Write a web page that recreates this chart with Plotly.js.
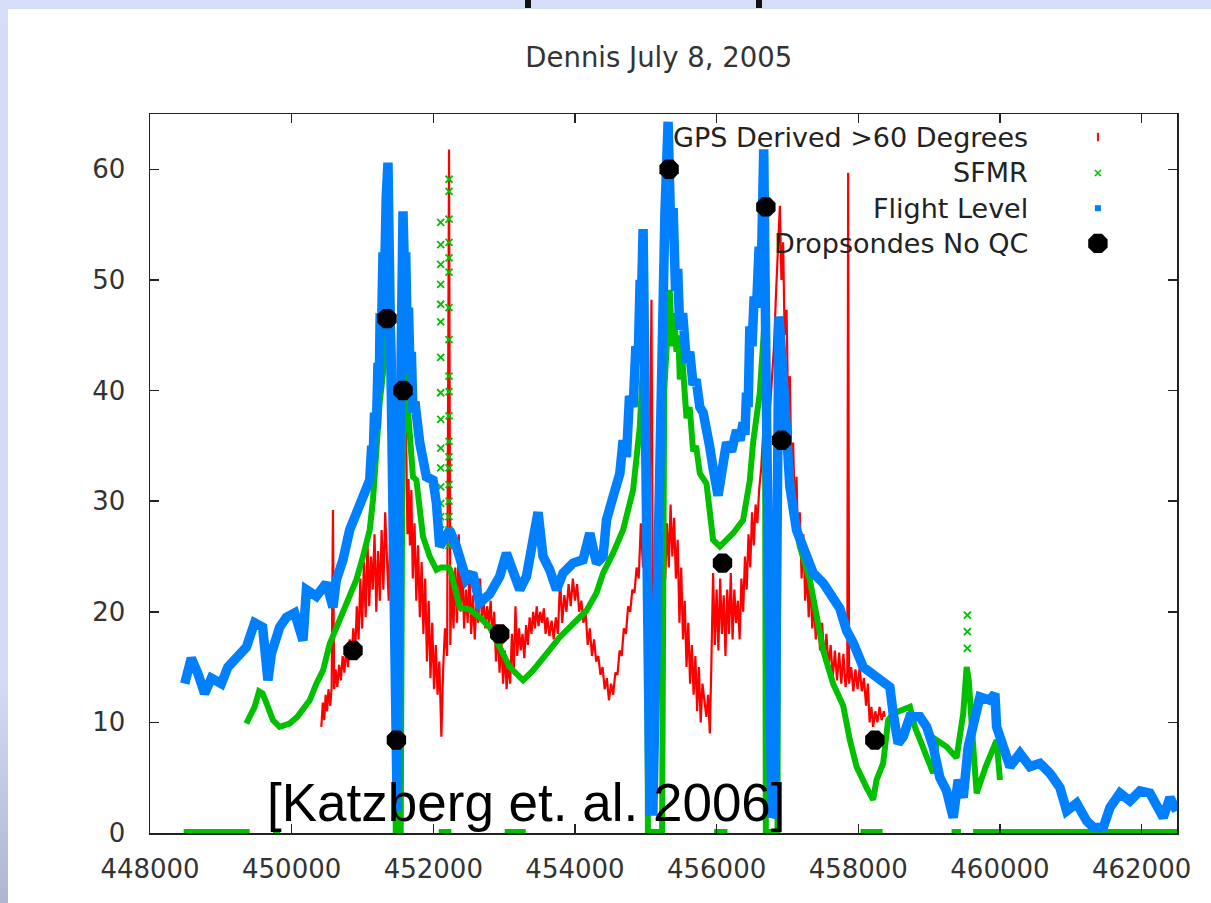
<!DOCTYPE html>
<html>
<head>
<meta charset="utf-8">
<script src="https://cdn.plot.ly/plotly-3.0.1.min.js"></script>
<style>
  html, body { margin: 0; padding: 0; }
  body {
    width: 1211px; height: 903px; overflow: hidden; position: relative;
    background: linear-gradient(to bottom, #d5ddf9 0%, #d3dbf6 75%, #aeb7cf 100%);
  }
  #sheet { position: absolute; left: 8px; top: 9px; right: 0; bottom: 0; background: #ffffff; }
  .cut { position: absolute; top: 0; width: 6px; height: 8px; background: #111; }
  #chart { position: absolute; left: 0; top: 0; width: 1211px; height: 903px; }
</style>
</head>
<body>
<div id="sheet"></div>
<div class="cut" style="left:525px"></div>
<div class="cut" style="left:756px"></div>
<div id="chart"></div>
<script>
// Hurricane Dennis, 8 July 2005: wind speed vs. time (seconds)

// GPS derived winds, elevation > 60 degrees
const gpsX = [450419,450440,450460,450480,450500,450520,450545,450565,450583,450600,450620,450645,450670,450695,450720,450745,450770,450795,450820,450845,450870,450895,450920,450945,450970,450995,451020,451045,451070,451095,451120,451145,451170,451195,451220,451245,451270,451295,451320,451345,451370,451395,451420,451445,451470,451500,451530,451560,451596,451615,451635,451650,451670,451690,451710,451735,451760,451785,451810,451835,451860,451885,451910,451935,451960,451985,452010,452035,452060,452085,452114,452140,452165,452195,452222,452240,452260,452285,452310,452335,452360,452385,452410,452435,452460,452485,452510,452535,452560,452585,452610,452635,452660,452685,452710,452735,452760,452785,452810,452835,452860,452885,452910,452935,452960,452985,453010,453035,453060,453085,453110,453135,453160,453185,453210,453235,453260,453285,453310,453335,453360,453385,453410,453435,453460,453485,453510,453535,453560,453585,453610,453640,453670,453700,453730,453760,453790,453820,453850,453880,453910,453940,453970,454000,454030,454060,454090,454120,454150,454180,454210,454240,454270,454300,454330,454360,454390,454420,454450,454480,454510,454540,454570,454600,454630,454660,454690,454720,454750,454780,454810,454840,454870,454900,454930,454960,454990,455020,455050,455080,455100,455120,455140,455160,455180,455200,455220,455250,455275,455300,455325,455350,455375,455400,455425,455450,455475,455500,455525,455550,455575,455600,455625,455650,455675,455700,455725,455750,455775,455800,455830,455855,455880,455904,455925,455950,455975,456000,456025,456050,456075,456100,456125,456150,456175,456200,456225,456250,456275,456300,456325,456350,456375,456400,456425,456450,456475,456500,456525,456550,456575,456600,456630,456660,456690,456720,456750,456780,456810,456840,456870,456893,456915,456939,456960,456987,457010,457034,457055,457080,457105,457128,457150,457175,457200,457225,457250,457275,457300,457325,457350,457375,457400,457430,457460,457490,457520,457550,457580,457610,457640,457670,457700,457730,457760,457790,457820,457845,457857,457870,457900,457930,457960,457990,458020,458050,458080,458110,458135,458160,458185,458210,458240,458270,458300,458330,458360,458375];
const gpsY = [9.6,11.8,10.2,12.5,11.0,13.0,11.5,13.2,29.2,13.0,14.8,13.2,15.2,13.8,16.0,14.5,16.8,15.0,17.5,15.8,18.5,16.0,20.5,17.5,23.0,18.5,24.5,19.5,26.5,20.5,25.0,22.0,27.0,20.0,25.5,21.0,27.4,22.0,29.0,24.0,21.0,28.0,19.0,30.0,24.0,31.0,28.0,38.0,43.3,36.0,27.0,32.0,26.0,31.0,23.0,28.0,21.0,26.0,19.5,24.5,18.0,23.0,15.5,21.0,14.0,19.0,13.0,17.0,12.5,15.5,8.7,15.0,18.5,16.0,61.8,17.0,23.0,18.5,24.0,19.0,27.0,20.0,24.0,18.5,22.0,19.0,23.5,18.0,21.5,17.5,21.0,19.0,23.0,19.5,21.0,18.5,20.5,19.0,21.0,17.5,20.0,15.5,18.5,14.5,17.5,13.5,16.5,13.0,15.5,13.5,18.0,14.5,20.5,16.0,18.5,16.5,18.0,15.8,18.8,17.0,19.5,18.0,20.0,18.5,20.5,18.7,20.0,19.0,20.3,18.0,19.5,17.8,19.2,17.5,19.5,18.0,23.0,19.0,21.5,20.0,22.5,20.5,23.0,21.0,22.5,20.0,21.0,19.0,20.0,17.0,18.5,16.0,17.5,15.5,16.0,14.3,15.0,13.0,14.0,12.0,13.5,12.5,14.5,14.3,16.5,16.0,18.5,18.0,20.5,20.0,22.0,21.7,24.0,23.0,28.0,24.0,29.0,25.0,27.0,48.2,20.0,24.0,19.7,27.4,22.0,30.0,24.0,27.0,23.0,28.0,24.0,29.7,25.0,28.5,23.0,26.5,19.0,24.0,17.5,21.0,15.0,19.0,13.5,17.0,12.5,16.0,11.0,15.0,10.0,13.5,12.0,10.5,12.5,9.0,15.0,23.5,17.0,22.0,16.5,23.0,18.0,21.5,16.0,22.0,18.0,23.5,17.5,22.0,19.0,21.0,17.5,23.0,20.0,25.0,22.0,27.0,24.0,29.0,26.0,29.7,28.0,31.0,33.0,36.5,35.0,39.0,38.0,41.3,44.0,49.0,53.0,56.7,50.0,53.4,45.0,47.3,38.0,41.3,33.0,35.3,29.0,32.2,26.0,29.0,23.0,27.0,21.0,24.0,19.5,23.0,18.5,21.0,17.5,20.0,16.5,19.0,15.5,18.0,15.0,17.0,14.0,16.5,13.8,16.3,13.5,16.2,13.2,14.5,59.7,13.5,15.0,12.8,14.8,13.0,15.0,12.8,14.0,11.5,13.5,10.0,11.4,9.6,11.0,10.0,11.4,10.2,11.0,10.5];

// SFMR surface winds
const sfmrX = [449360,449420,449477,449540,449590,449665,449735,449830,449970,450080,450160,450255,450349,450443,450537,450631,450725,450819,450914,451007,451102,451148,451196,451243,451337,451384,451431,451455,451470,451540,451560,451596,451667,451713,451761,451808,451854,451949,452044,452110,452140,452215,452240,452278,452373,452514,452655,452797,452938,453079,453267,453408,453597,453785,453973,454162,454304,454397,454538,454679,454821,454915,454962,455010,455030,455230,455260,455300,455339,455370,455400,455433,455460,455480,455520,455575,455620,455668,455710,455763,455857,455904,455950,456045,456233,456374,456469,456515,456610,456681,456695,456860,456869,456939,457034,457080,457175,457316,457410,457504,457645,457787,457881,457976,458117,458210,458258,458351,458422,458493,458611,458729,458799,458870,458965,459058,459106,459247,459388,459482,459530,459560,459623,459671,459800,459953,460000];
const sfmrY = [9.9,10.8,11.4,12.8,12.6,11.4,10.2,9.6,9.9,10.5,11.1,12.0,13.5,14.7,17.1,18.6,19.9,21.7,22.9,25.0,27.4,30.1,35.3,38.9,44.3,52.7,42.5,20.0,0,0,30.0,42.2,36.7,32.2,31.9,29.0,26.8,25.0,23.8,24.0,24.0,24.0,23.8,22.9,20.4,20.2,19.5,18.6,16.8,15.0,13.8,14.7,16.2,17.7,18.9,20.1,21.7,23.5,25.3,27.4,31.0,36.7,42.5,38.3,0,0,40.0,46.0,49.1,44.0,47.0,43.5,45.0,41.0,42.5,37.5,38.5,34.5,35.0,32.5,31.6,29.0,26.5,25.9,27.1,28.3,31.9,35.3,39.8,46.7,0,0,41.3,38.3,33.7,29.0,25.9,22.9,19.5,16.5,13.5,11.5,8.4,6.0,4.1,3.0,4.8,6.3,10.2,10.8,11.1,11.4,9.6,8.4,6.8,5.4,8.4,7.8,6.8,10.8,15.0,13.8,7.8,3.6,6.0,8.4,4.8];

// isolated SFMR readings standing well above the track
const sfmrSpikeX = [452104,452104,452104,452104,452104,452104,452104,452104,452104,452104,452104,452104,452104,452104,452104,
                    452222,452222,452222,452222,452222,452222,452222,452222,452222,452222,452222,452222,452222,452222,452222,452222,452222,452222,452222,
                    459540,459540,459540];
const sfmrSpikeY = [55.2,53.2,51.4,49.6,47.8,46.2,43.0,39.8,37.4,34.8,33.0,31.3,29.8,28.6,27.4,
                    59.1,58.0,55.5,53.4,52.0,50.7,47.5,44.6,41.3,39.9,37.7,35.4,34.0,33.0,31.5,30.0,28.6,27.4,26.0,
                    19.7,18.2,16.7];

// SFMR intervals reporting zero wind
const sfmrZeroStart = [448475,449736,451455,452076,453008,455024,455964,456690,458032,459317,459622];
const sfmrZeroEnd   = [449407,449840,451555,452255,453305,455236,456153,456878,458343,459449,462500];

// Flight level winds
const flightX = [448490,448583,448672,448771,448866,449007,449100,449219,449360,449477,449590,449665,449713,449830,449925,450042,450160,450208,450349,450490,450583,450631,450725,450819,450914,451007,451102,451130,451148,451170,451196,451219,451235,451250,451267,451290,451313,451335,451360,451384,451420,451460,451490,451520,451550,451572,451595,451610,451630,451650,451672,451690,451713,451740,451808,451902,451996,452044,452090,452232,452326,452467,452556,452655,452797,452938,453032,453126,453220,453315,453408,453479,453549,453644,453739,453832,453973,454114,454209,454304,454397,454445,454538,454586,454633,454680,454727,454770,454821,454860,454891,454920,454939,454962,454990,455030,455060,455100,455150,455220,455270,455315,455350,455386,455420,455450,455480,455520,455575,455620,455668,455710,455763,455810,455857,455900,455950,456020,456140,456210,456281,456330,456374,456400,456422,456445,456469,456500,456530,456563,456600,456634,456650,456665,456700,456740,456780,456820,456850,456880,456939,456987,457034,457128,457270,457363,457504,457645,457740,457835,457928,458069,458210,458351,458446,458493,458563,458634,458729,458870,458965,459058,459152,459247,459340,459411,459482,459552,459623,459717,459859,459929,459953,460046,460141,460282,460424,460565,460706,460847,460942,461083,461224,461318,461459,461553,461695,461836,461977,462118,462213,462306,462401,462495];
const flightY = [13.5,15.8,14.5,12.6,14.0,13.5,15.0,15.8,16.8,19.0,18.6,13.8,16.2,18.6,19.5,19.9,17.4,22.0,21.4,22.6,20.4,22.9,24.7,27.4,29.0,30.4,31.9,35.0,33.5,38.0,36.5,42.5,40.0,47.0,45.0,52.5,50.5,57.5,60.6,50.0,30.0,2.0,2.0,30.0,50.0,56.2,50.0,52.5,45.5,47.5,41.5,43.5,38.0,39.0,35.3,32.2,31.9,29.8,25.9,27.4,25.9,22.9,23.5,20.8,21.6,23.2,25.3,23.5,22.0,23.2,26.2,29.0,25.0,23.8,22.0,23.5,24.4,24.7,27.1,24.4,25.0,28.3,30.4,31.6,32.5,35.5,34.0,39.5,38.5,44.0,42.5,50.0,48.5,54.6,40.0,10.0,2.0,2.0,20.0,45.0,56.0,64.3,55.0,56.5,49.0,51.0,45.5,47.0,42.5,43.5,40.5,41.0,38.5,38.0,35.5,35.0,33.0,30.5,35.3,34.5,36.4,35.5,37.1,36.0,39.8,38.5,45.8,44.0,48.5,47.5,53.0,52.0,57.0,61.8,40.0,10.0,1.4,2.0,35.0,46.7,41.3,35.3,31.3,27.4,25.0,23.5,22.6,21.4,20.3,18.3,17.2,15.0,14.4,13.8,13.2,10.8,8.1,8.7,10.5,10.5,9.6,7.8,5.0,3.8,1.4,4.8,3.2,7.8,10.2,12.3,12.0,12.6,9.6,7.8,6.0,7.2,6.0,6.3,5.4,4.1,2.0,2.7,1.1,0.5,0.5,2.3,3.6,2.9,3.8,3.6,2.3,1.4,3.2,2.0];

// Dropsondes, no quality control
const dropX = [450866,451346,451479,451572,452938,455329,456083,456695,456917,458234];
const dropY = [16.5,46.5,8.4,40.0,18.0,60.0,24.4,56.6,35.5,8.4];

// Legend entries (labels drawn right-justified, key to their right)
const seriesNames = ['GPS Derived >60 Degrees', 'SFMR', 'Flight Level', 'Dropsondes No QC'];

const xTicks = [448000,450000,452000,454000,456000,458000,460000,462000];
const yTicks = [0,10,20,30,40,50,60];

const RED = '#ff0000', GREEN = '#00c000', BLUE = '#0080ff', BLACK = '#000000';

// join zero-wind intervals into one broken polyline
const zeroX = [], zeroY = [];
sfmrZeroStart.forEach((s, i) => { zeroX.push(s, sfmrZeroEnd[i], null); zeroY.push(0, 0, null); });

const traces = [
  { x: gpsX, y: gpsY, type: 'scatter', mode: 'lines', line: { color: RED, width: 2.2 }, name: seriesNames[0], showlegend: false, hoverinfo: 'skip' },
  { x: zeroX, y: zeroY, type: 'scatter', mode: 'lines', line: { color: GREEN, width: 8 }, showlegend: false, hoverinfo: 'skip', connectgaps: false },
  { x: sfmrX, y: sfmrY, type: 'scatter', mode: 'lines', line: { color: GREEN, width: 6 }, name: seriesNames[1], showlegend: false, hoverinfo: 'skip' },
  { x: sfmrSpikeX, y: sfmrSpikeY, type: 'scatter', mode: 'markers', marker: { symbol: 'x-thin', size: 7, line: { color: GREEN, width: 1.8 } }, showlegend: false, hoverinfo: 'skip' },
  { x: flightX, y: flightY, type: 'scatter', mode: 'lines', line: { color: BLUE, width: 9.5 }, name: seriesNames[2], showlegend: false, hoverinfo: 'skip' },
  { x: dropX, y: dropY, type: 'scatter', mode: 'markers', marker: { color: BLACK, size: 21, symbol: 'octagon' }, name: seriesNames[3], showlegend: false, hoverinfo: 'skip', cliponaxis: false }
];

// legend block geometry (paper fractions of the plot area)
const keyColX = 0.923, labelColX = 0.857;
const rowY = [0.968, 0.918, 0.869, 0.820];
const keyStyles = [
  { symbol: 'line-ns', size: 6, color: RED, line: { color: RED, width: 2 } },
  { symbol: 'x-thin', size: 6, color: GREEN, line: { color: GREEN, width: 1.6 } },
  { symbol: 'square', size: 6, color: BLUE, line: { width: 0 } },
  { symbol: 'octagon', size: 21, color: BLACK, line: { width: 0 } }
];
keyStyles.forEach((m, i) => traces.push({
  x: [keyColX], y: [rowY[i]], xaxis: 'x2', yaxis: 'y2',
  type: 'scatter', mode: 'markers', showlegend: false, hoverinfo: 'skip', cliponaxis: false,
  marker: Object.assign({ opacity: 1 }, m)
}));

const FONT = 'DejaVu Sans, sans-serif';

const annotations = seriesNames.map((t, i) => ({
  text: t, xref: 'paper', yref: 'paper', x: labelColX, y: rowY[i],
  xanchor: 'right', yanchor: 'middle', showarrow: false,
  font: { family: FONT, size: 27, color: '#222' }
}));
annotations.push({
  text: '[Katzberg et. al. 2006]', xref: 'paper', yref: 'paper', x: 0.112, y: 0.042,
  xanchor: 'left', yanchor: 'middle', showarrow: false,
  font: { family: 'Liberation Sans, Arial, sans-serif', size: 53, color: '#000' }
});

const axisCommon = {
  showgrid: false, zeroline: false, showline: true, linecolor: '#222', linewidth: 1.5,
  mirror: 'ticks', ticks: 'inside', ticklen: 9, tickwidth: 1.5, tickcolor: '#222',
  tickfont: { family: FONT, size: 26, color: '#333' }
};

const layout = {
  width: 1211, height: 903,
  margin: { l: 150, r: 34, t: 114, b: 70 },
  paper_bgcolor: 'rgba(0,0,0,0)', plot_bgcolor: '#ffffff',
  showlegend: false,
  title: {
    text: 'Dennis July 8, 2005', xref: 'container', yref: 'container',
    x: 0.544, y: 0.936, xanchor: 'center', yanchor: 'middle',
    font: { family: FONT, size: 27.5, color: '#333' }
  },
  xaxis: Object.assign({}, axisCommon, {
    range: [448000, 462500], tickvals: xTicks, ticktext: xTicks.map(String), ticklabelstandoff: 12
  }),
  yaxis: Object.assign({}, axisCommon, {
    range: [0, 65], tickvals: yTicks, ticktext: yTicks.map(String), ticklabelstandoff: 18
  }),
  xaxis2: { overlaying: 'x', range: [0, 1], visible: false, fixedrange: true },
  yaxis2: { overlaying: 'y', range: [0, 1], visible: false, fixedrange: true },
  annotations: annotations
};

Plotly.newPlot('chart', traces, layout, { displayModeBar: false, staticPlot: true });
</script>
</body>
</html>
